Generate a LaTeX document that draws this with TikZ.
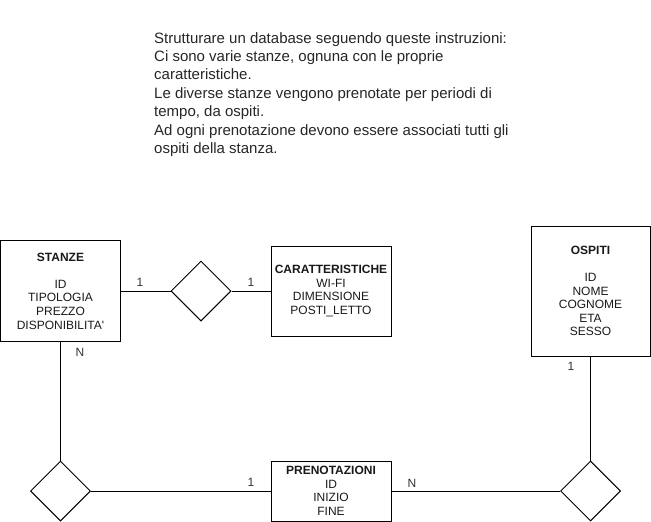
\documentclass[tikz,border=0pt]{standalone}
\usepackage{fontspec}
\setmainfont{Liberation Sans}
\usetikzlibrary{shapes.geometric}
\begin{document}
\begin{tikzpicture}[x=1pt,y=-1pt,
  entity/.style={draw, line width=1pt, align=center, inner sep=0pt,
    font=\fontsize{12}{13.6}\selectfont, text=black!90},
  rel/.style={draw, diamond, aspect=1, line width=1pt, inner sep=0pt,
    minimum width=60pt, minimum height=60pt},
  card/.style={inner sep=0pt, font=\fontsize{12}{14}\selectfont, text=black!80},
  link/.style={line width=1pt},
  note/.style={anchor=north west, inner sep=0pt, align=left,
    font=\fontsize{15}{18.4}\selectfont, text=black!85}]
\useasboundingbox (0,0) rectangle (651,522);

\node[note] (txt) at (154,32) {Strutturare un database seguendo queste instruzioni:\\
Ci sono varie stanze, ognuna con le proprie\\
caratteristiche.\\
Le diverse stanze vengono prenotate per periodi di\\
tempo, da ospiti.\\
Ad ogni prenotazione devono essere associati tutti gli\\
ospiti della stanza.};

\node[entity, minimum width=120pt, minimum height=101pt] (stanze) at (60.5,291)
  {\textbf{STANZE}\\[13.6pt]ID\\TIPOLOGIA\\PREZZO\\DISPONIBILITA\textquotesingle};
\node[entity, minimum width=120pt, minimum height=90pt] (caratt) at (331,291)
  {\textbf{CARATTERISTICHE}\\WI-FI\\DIMENSIONE\\POSTI\_LETTO};
\node[entity, minimum width=119pt, minimum height=130pt] (ospiti) at (590.5,291)
  {\textbf{OSPITI}\\[13.6pt]ID\\NOME\\COGNOME\\ETA\\SESSO};
\node[entity, minimum width=120pt, minimum height=60pt] (preno) at (331,491)
  {\textbf{PRENOTAZIONI}\\ID\\INIZIO\\FINE};

\node[rel] (d1) at (201,291) {};
\node[rel] (d2) at (60.5,491) {};
\node[rel] (d3) at (590.5,491) {};

\draw[link] (stanze.east) -- (d1.west);
\draw[link] (d1.east) -- (caratt.west);
\draw[link] (stanze.south) -- (d2.north);
\draw[link] (d2.east) -- (preno.west);
\draw[link] (preno.east) -- (d3.west);
\draw[link] (ospiti.south) -- (d3.north);

\node[card] (c1) at (140,282) {1};
\node[card] (c2) at (251,282) {1};
\node[card] (c3) at (80,352) {N};
\node[card] (c4) at (251,482) {1};
\node[card] (c5) at (412,483) {N};
\node[card] (c6) at (571,366) {1};
\end{tikzpicture}
\end{document}
